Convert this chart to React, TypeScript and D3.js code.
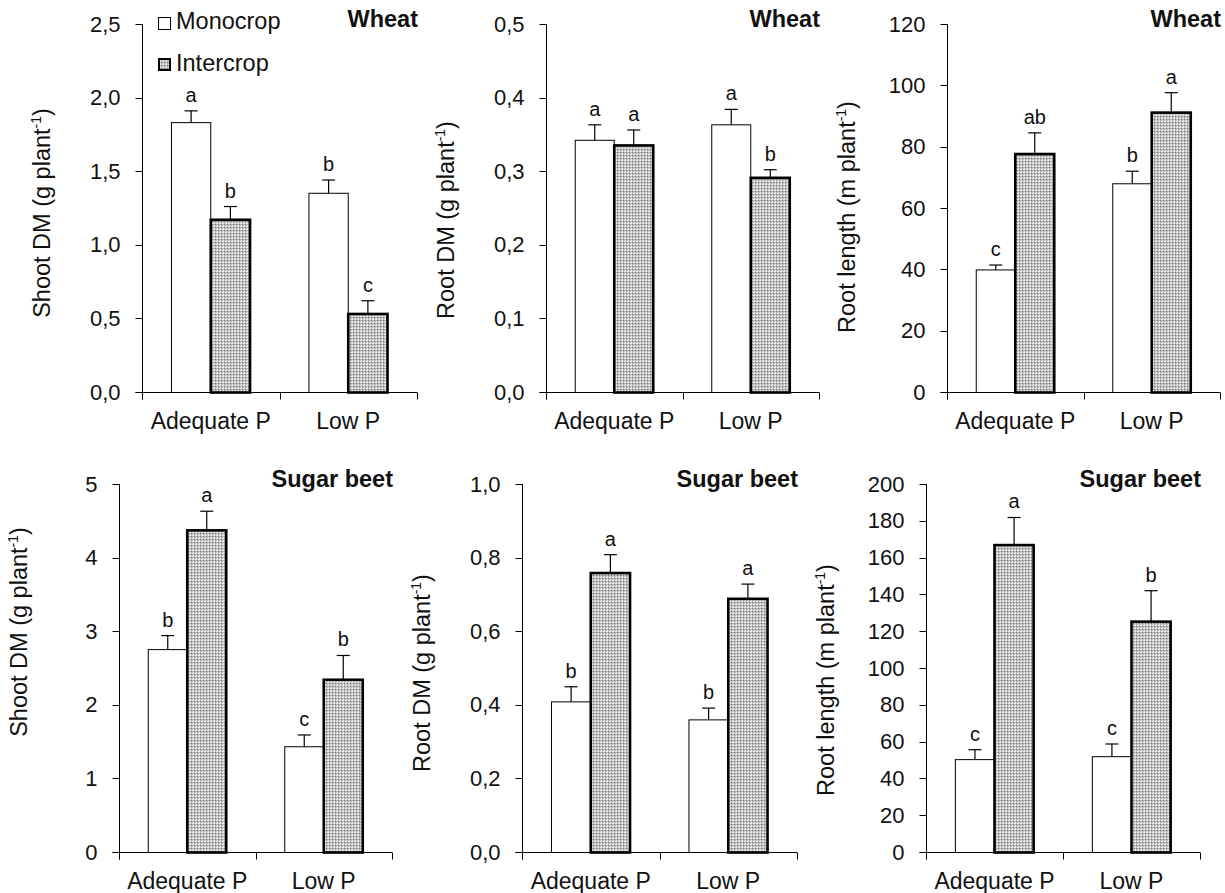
import React from "react";
import * as d3 from "d3";

const categories = ["Adequate P", "Low P"];
const seriesNames = ["Monocrop", "Intercrop"];

// wheat
const wheatShootMono = [1.83, 1.35];
const wheatShootMonoErr = [0.08, 0.09];
const wheatShootInter = [1.17, 0.53];
const wheatShootInterErr = [0.09, 0.09];
const wheatShootLetters = [["a", "b"], ["b", "c"]];

const wheatRootMono = [0.342, 0.363];
const wheatRootMonoErr = [0.021, 0.021];
const wheatRootInter = [0.335, 0.291];
const wheatRootInterErr = [0.021, 0.011];
const wheatRootLetters = [["a", "a"], ["a", "b"]];

const wheatLenMono = [39.8, 67.9];
const wheatLenMonoErr = [1.6, 4.1];
const wheatLenInter = [77.6, 91.1];
const wheatLenInterErr = [6.9, 6.5];
const wheatLenLetters = [["c", "b"], ["ab", "a"]];

// sugar beet
const beetShootMono = [2.75, 1.43];
const beetShootMonoErr = [0.19, 0.16];
const beetShootInter = [4.37, 2.34];
const beetShootInterErr = [0.26, 0.33];
const beetShootLetters = [["b", "c"], ["a", "b"]];

const beetRootMono = [0.408, 0.359];
const beetRootMonoErr = [0.041, 0.032];
const beetRootInter = [0.758, 0.688];
const beetRootInterErr = [0.05, 0.04];
const beetRootLetters = [["b", "b"], ["a", "a"]];

const beetLenMono = [50.2, 51.8];
const beetLenMonoErr = [5.4, 6.9];
const beetLenInter = [166.8, 125.2];
const beetLenInterErr = [15, 16.8];
const beetLenLetters = [["c", "c"], ["a", "b"]];

const shootTicks = [0, 0.5, 1.0, 1.5, 2.0, 2.5];
const wheatRootTicks = [0, 0.1, 0.2, 0.3, 0.4, 0.5];
const wheatLenTicks = [0, 20, 40, 60, 80, 100, 120];
const beetShootTicks = [0, 1, 2, 3, 4, 5];
const beetRootTicks = [0, 0.2, 0.4, 0.6, 0.8, 1.0];
const beetLenTicks = [0, 20, 40, 60, 80, 100, 120, 140, 160, 180, 200];

const locale = d3.formatLocale({ decimal: ",", thousands: ".", grouping: [3], currency: ["", ""] });
const f1 = locale.format(".1f");
const f0 = locale.format("d");

const FONT = "'Liberation Sans', Arial, sans-serif";

const panels = [
  { crop: "Wheat", label: "Shoot DM", unit: "g", mono: wheatShootMono, monoErr: wheatShootMonoErr, inter: wheatShootInter, interErr: wheatShootInterErr, letters: wheatShootLetters, ticks: shootTicks, fmt: f1, x0: 142, x1: 417, y0: 24, y1: 392, labelShift: 5, legend: true },
  { crop: "Wheat", label: "Root DM", unit: "g", mono: wheatRootMono, monoErr: wheatRootMonoErr, inter: wheatRootInter, interErr: wheatRootInterErr, letters: wheatRootLetters, ticks: wheatRootTicks, fmt: f1, x0: 546, x1: 819, y0: 24, y1: 392, labelShift: 12 },
  { crop: "Wheat", label: "Root length", unit: "m", mono: wheatLenMono, monoErr: wheatLenMonoErr, inter: wheatLenInter, interErr: wheatLenInterErr, letters: wheatLenLetters, ticks: wheatLenTicks, fmt: f0, x0: 947, x1: 1220, y0: 24, y1: 392, labelShift: 9 },
  { crop: "Sugar beet", label: "Shoot DM", unit: "g", mono: beetShootMono, monoErr: beetShootMonoErr, inter: beetShootInter, interErr: beetShootInterErr, letters: beetShootLetters, ticks: beetShootTicks, fmt: f0, x0: 119, x1: 392, y0: 484, y1: 852, labelShift: -36 },
  { crop: "Sugar beet", label: "Root DM", unit: "g", mono: beetRootMono, monoErr: beetRootMonoErr, inter: beetRootInter, interErr: beetRootInterErr, letters: beetRootLetters, ticks: beetRootTicks, fmt: f1, x0: 522, x1: 797, y0: 484, y1: 852, labelShift: 5 },
  { crop: "Sugar beet", label: "Root length", unit: "m", mono: beetLenMono, monoErr: beetLenMonoErr, inter: beetLenInter, interErr: beetLenInterErr, letters: beetLenLetters, ticks: beetLenTicks, fmt: f0, x0: 926, x1: 1200, y0: 484, y1: 852, labelShift: 12 },
];

const Txt = ({ x, y, size = 22, anchor = "start", weight = "normal", rotate = false, children }: any) => (
  <text
    transform={`translate(${x},${y})${rotate ? " rotate(-90)" : ""}`}
    fontSize={size}
    fontFamily={FONT}
    fontWeight={weight}
    textAnchor={anchor}
    fill="#111"
  >
    {children}
  </text>
);

const Panel = ({ p }: any) => {
  const y = d3.scaleLinear().domain([p.ticks[0], p.ticks[p.ticks.length - 1]]).range([p.y1, p.y0]);
  const xg = d3.scaleBand().domain(categories).range([p.x0, p.x1]).padding(0);
  const xs = d3.scaleBand().domain(seriesNames).range([0, xg.bandwidth()]).paddingInner(0).paddingOuter(0.75);
  const vals = [p.mono, p.inter];
  const errs = [p.monoErr, p.interErr];
  const yb = Math.round(p.y1) + 0.5;
  const xa = Math.round(p.x0) + 0.5;
  const cap = 6.5;

  return (
    <g>
      {/* bars */}
      {seriesNames.map((s, si) =>
        categories.map((c, ci) => {
          const bx = (xg(c) as number) + (xs(s) as number);
          const w = xs.bandwidth();
          const top = y(vals[si][ci]);
          const et = y(vals[si][ci] + errs[si][ci]);
          const cx = bx + w / 2;
          return (
            <g key={s + c}>
              <line x1={cx} x2={cx} y1={top} y2={et} stroke="#000" strokeWidth={1.2} />
              <line x1={cx - cap} x2={cx + cap} y1={et} y2={et} stroke="#000" strokeWidth={1.2} />
              <rect
                x={bx}
                y={top}
                width={w}
                height={yb - top}
                fill={si === 0 ? "#fff" : "url(#dots)"}
                stroke="#000"
                strokeWidth={si === 0 ? 1 : 2.6}
              />
              <Txt x={cx} y={et - 9} size={20} anchor="middle">
                {p.letters[si][ci]}
              </Txt>
            </g>
          );
        })
      )}
      {/* axes */}
      <line x1={xa} x2={xa} y1={y(p.ticks[p.ticks.length - 1])} y2={yb + 7} stroke="#000" />
      <line x1={xa - 7} x2={p.x1} y1={yb} y2={yb} stroke="#000" />
      {[...categories.map((c) => xg(c) as number), p.x1].map((t, i) => (
        <line key={i} x1={Math.round(t) + 0.5} x2={Math.round(t) + 0.5} y1={yb} y2={yb + 7} stroke="#000" />
      ))}
      {p.ticks.map((t: number) => (
        <g key={t}>
          <line x1={xa - 7} x2={xa} y1={Math.round(y(t)) + 0.5} y2={Math.round(y(t)) + 0.5} stroke="#000" />
          <Txt x={xa - 22} y={y(t) + 7.5} anchor="end">
            {p.fmt(t)}
          </Txt>
        </g>
      ))}
      {categories.map((c) => (
        <Txt key={c} x={(xg(c) as number) + xg.bandwidth() / 2} y={yb + 36} size={23} anchor="middle">
          {c}
        </Txt>
      ))}
      <Txt x={p.x1 + 1} y={p.y0 + 3} size={23.5} anchor="end" weight="bold">
        {p.crop}
      </Txt>
      <Txt x={p.x0 - 92} y={(p.y0 + p.y1) / 2 + p.labelShift} size={23.5} anchor="middle" rotate>
        {`${p.label} (${p.unit} plant`}
        <tspan fontSize={14} dy={-9}>-1</tspan>
        <tspan dy={9}>)</tspan>
      </Txt>
      {p.legend && (
        <g>
          <rect x={158.5} y={17.5} width={12} height={12} fill="#fff" stroke="#000" />
          <Txt x={176} y={29} size={23.5}>{seriesNames[0]}</Txt>
          <rect x={159} y={59} width={11} height={11} fill="url(#dots)" stroke="#000" strokeWidth={2} />
          <Txt x={176} y={71} size={23.5}>{seriesNames[1]}</Txt>
        </g>
      )}
    </g>
  );
};

export default function App() {
  return (
    <svg
      width={1225}
      height={893}
      style={{ position: "absolute", left: 0, top: 0, background: "#fff" }}
    >
      <defs>
        <pattern id="dots" width={3} height={3} patternUnits="userSpaceOnUse">
          <rect width={3} height={3} fill="#b6b6b6" />
          <rect x={1} y={0} width={1} height={2} fill="#e8e8e8" />
          <rect x={0} y={1} width={2} height={1} fill="#e8e8e8" />
          <rect x={2} y={2} width={1} height={1} fill="#7a7a7a" />
        </pattern>
      </defs>
      <rect width={1225} height={893} fill="#fff" />
      {panels.map((p, i) => (
        <Panel key={i} p={p} />
      ))}
    </svg>
  );
}
